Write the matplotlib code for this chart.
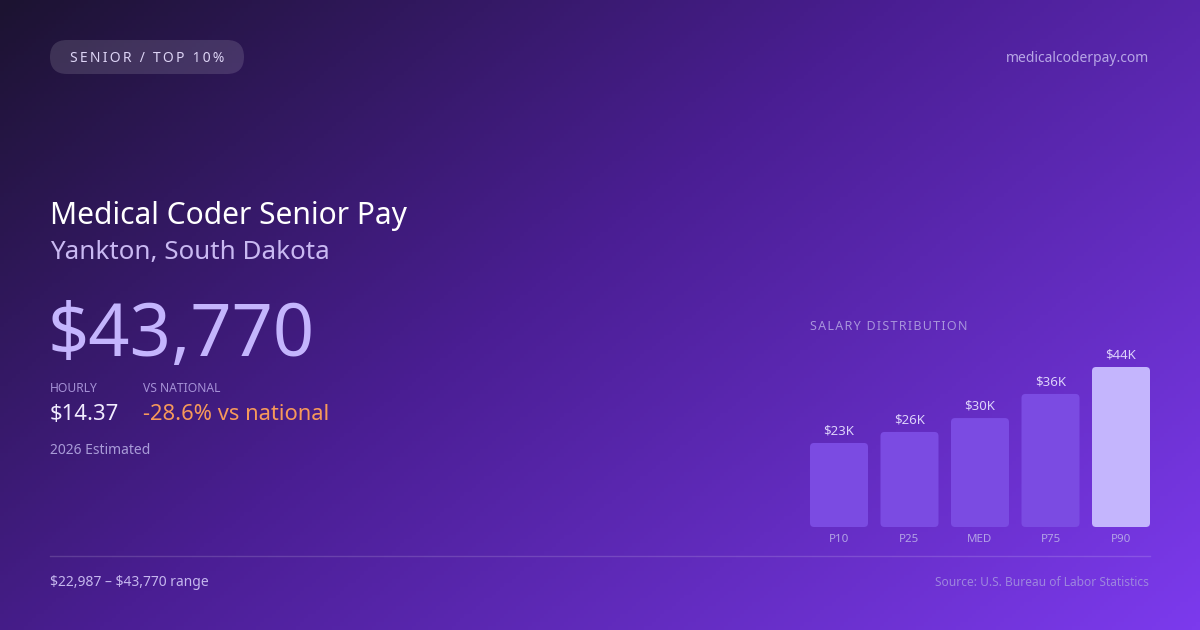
import numpy as np
import matplotlib
matplotlib.use("Agg")
import matplotlib.pyplot as plt
from matplotlib.colors import LinearSegmentedColormap
from matplotlib.patches import FancyBboxPatch

plt.rcParams['font.family'] = ['Noto Sans', 'DejaVu Sans']

# data
percentiles = ['P10', 'P25', 'MED', 'P75', 'P90']
salaries = [22987, 26000, 29800, 36400, 43770]
salary_labels = ['$23K', '$26K', '$30K', '$36K', '$44K']

badge_text = 'SENIOR / TOP 10%'
site = 'medicalcoderpay.com'
title = 'Medical Coder Senior Pay'
subtitle = 'Yankton, South Dakota'
annual = '$43,770'
hourly = '$14.37'
vs_national = '-28.6% vs national'
year_note = '2026 Estimated'
range_note = '$22,987 \u2013 $43,770 range'
source = 'Source: U.S. Bureau of Labor Statistics'

W, H = 1200, 630


def spaced(s, sep='\u200a'):
    # poor man's letter spacing
    return sep.join(s)


fig = plt.figure(figsize=(W / 100, H / 100), dpi=100)

# background gradient, diagonal
bg = fig.add_axes([0, 0, 1, 1])
bg.set_xlim(0, W)
bg.set_ylim(H, 0)
bg.axis('off')
xx, yy = np.meshgrid(np.linspace(0, 1, 300), np.linspace(0, 1, 160))
t = (xx * 0.6 + yy * 0.4)
cmap = LinearSegmentedColormap.from_list(
    'bg', [(0, '#1c1331'), (0.45, '#4a1e93'), (1, '#7c3aed')])
bg.imshow(t, cmap=cmap, extent=[0, W, H, 0], aspect='auto', zorder=0)

# badge
pill = FancyBboxPatch((50, 40), 194, 34,
                      boxstyle='round,pad=0,rounding_size=17',
                      mutation_aspect=1, fc=(1, 1, 1, 0.13), ec='none', zorder=1)
bg.add_patch(pill)
bg.text(147, 58, spaced(badge_text, '\u2009'), color='#ddd4f5', fontsize=10,
        ha='center', va='center', zorder=2, parse_math=False)
bg.text(1149, 59, site, color='#b7a6e6', fontsize=10, ha='right', va='center')

# headline block
bg.text(50, 216, title, color='white', fontsize=21.6, ha='left', va='center')
bg.text(50, 252, subtitle, color='#c9b9f2', fontsize=18.7, ha='left', va='center')
bg.text(48, 337, annual, color='#c4b5fd', fontsize=52, ha='left', va='center',
        parse_math=False)

bg.text(50, 389, 'HOURLY', color='#a591d6', fontsize=8.7, ha='left', va='center')
bg.text(143, 389, 'VS NATIONAL', color='#a591d6', fontsize=8.7, ha='left', va='center')
bg.text(50, 415, hourly, color='#f1ecff', fontsize=15.9, ha='left', va='center',
        parse_math=False)
bg.text(143, 415, vs_national, color='#f7995a', fontsize=15.8, ha='left', va='center')
bg.text(50, 451, year_note, color='#a99bd8', fontsize=10, ha='left', va='center')

bg.text(810, 327, spaced('SALARY DISTRIBUTION', '\u200a'), color='#a894dc',
        fontsize=9, ha='left', va='center')

# footer
bg.plot([50, 1150], [556, 556], color=(1, 1, 1, 0.15), lw=1)
bg.text(50, 582, range_note, color='#c5b7ee', fontsize=10, ha='left', va='center',
        parse_math=False)
bg.text(1149, 582, source, color='#9d86de', fontsize=8.6, ha='right', va='center')

# bar chart, axes placed in pixel terms
pitch = 70.5
half = 29 / pitch
ax_left, ax_right = 810, 1150
ax_bottom, ax_top = 527, 367
ax = fig.add_axes([ax_left / W, 1 - ax_bottom / H,
                   (ax_right - ax_left) / W, (ax_bottom - ax_top) / H])
ax.set_xlim(-half, len(salaries) - 1 + half)
ax.set_ylim(0, max(salaries))
ax.axis('off')
ax.patch.set_alpha(0)

y_per_px = max(salaries) / (ax_bottom - ax_top)
aspect = y_per_px * pitch
bar_w = 2 * half
for i, (v, lab, p) in enumerate(zip(salaries, salary_labels, percentiles)):
    col = '#c4b5fd' if i == len(salaries) - 1 else '#7b4be2'
    bar = FancyBboxPatch((i - half, 0), bar_w, v,
                         boxstyle='round,pad=0,rounding_size=%f' % (4 / pitch),
                         mutation_aspect=aspect, fc=col, ec='none')
    ax.add_patch(bar)
    ax.text(i, v + 12 * y_per_px, lab, color='#ddd2fb', fontsize=9.5,
            ha='center', va='center', clip_on=False, parse_math=False)
    ax.text(i, -12 * y_per_px, p, color='#b3a3e6', fontsize=8.3,
            ha='center', va='center', clip_on=False)

fig.savefig('out.png', dpi=100)
